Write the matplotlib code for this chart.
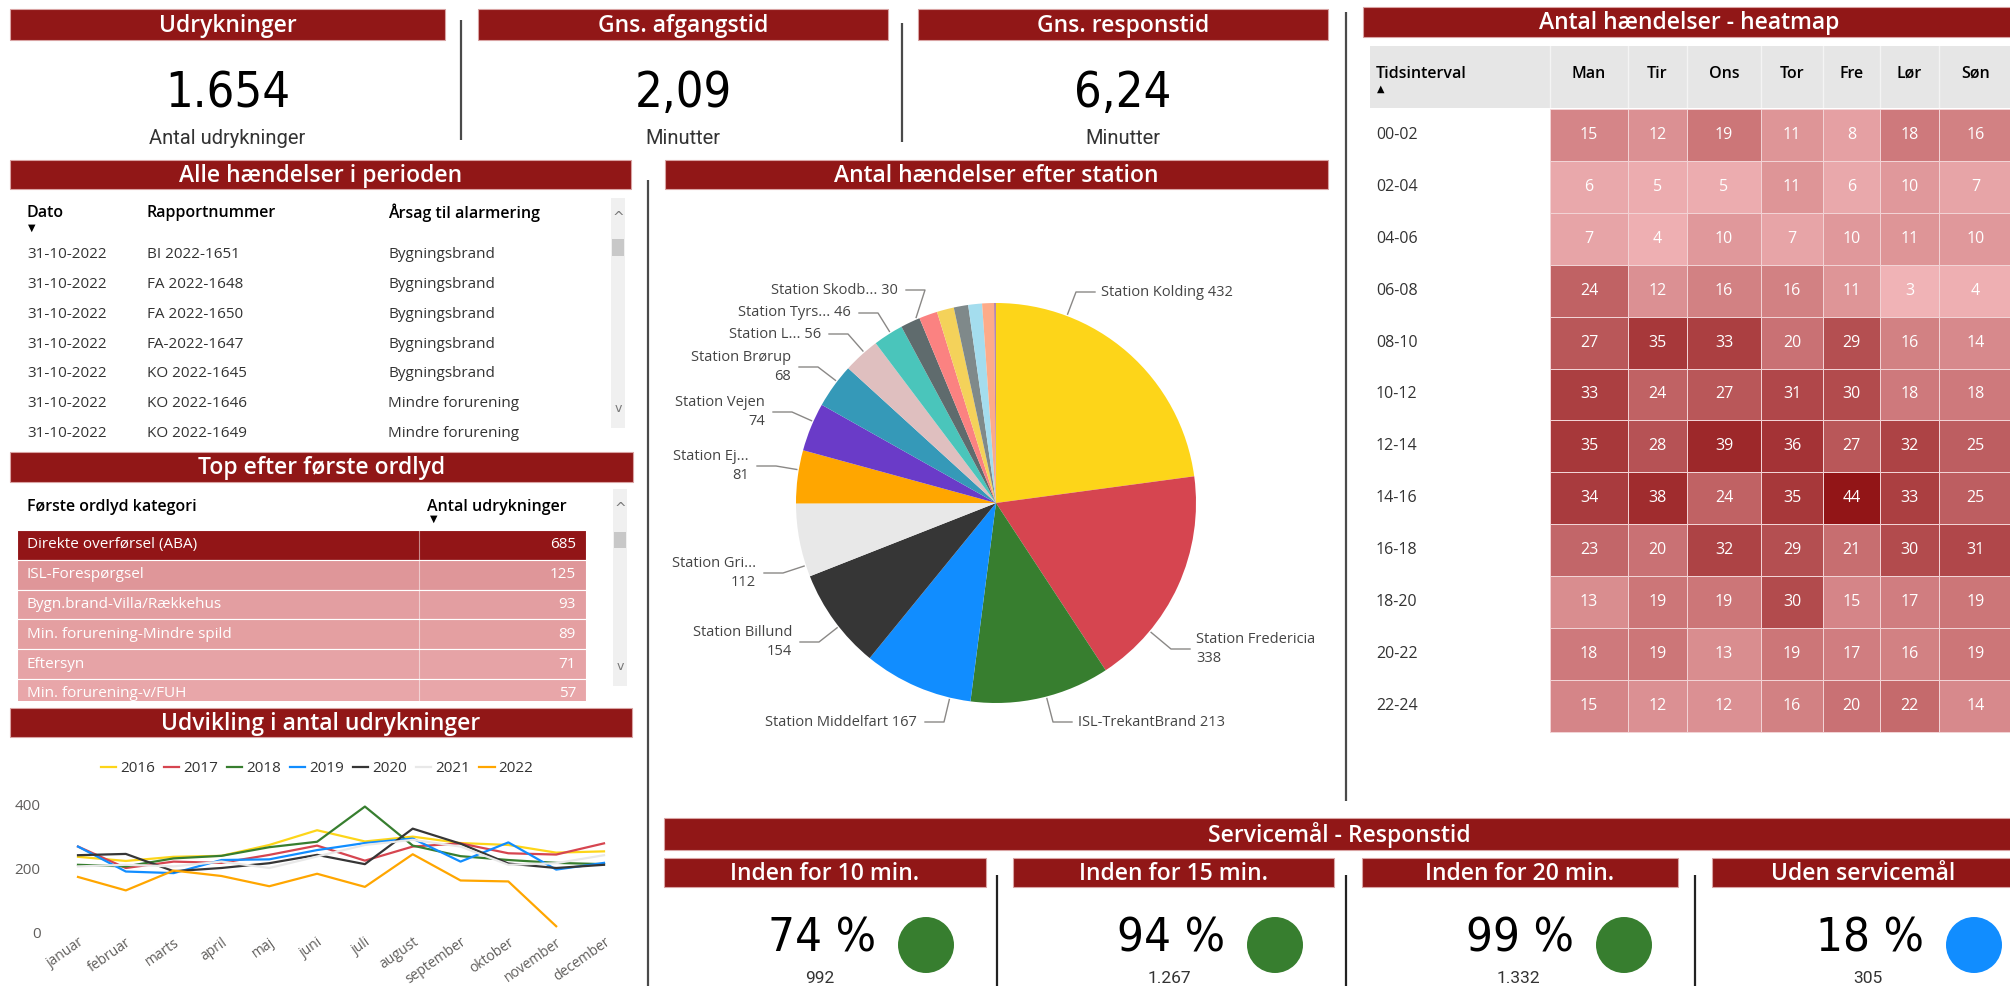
import numpy as np
import matplotlib
matplotlib.use("Agg")
import matplotlib.pyplot as plt
from matplotlib import font_manager as fm
from matplotlib.patches import Rectangle, Circle
from matplotlib.colors import LinearSegmentedColormap, Normalize

# ---------------- data ----------------
kpi_titles = ["Udrykninger", "Gns. afgangstid", "Gns. responstid"]
kpi_values = ["1.654", "2,09", "6,24"]
kpi_units = ["Antal udrykninger", "Minutter", "Minutter"]

event_cols = ["Dato", "Rapportnummer", "Årsag til alarmering"]
event_dates = ["31-10-2022"] * 7
event_reports = ["BI 2022-1651", "FA 2022-1648", "FA 2022-1650", "FA-2022-1647",
                 "KO 2022-1645", "KO 2022-1646", "KO 2022-1649"]
event_causes = ["Bygningsbrand"] * 5 + ["Mindre forurening"] * 2

word_cols = ["Første ordlyd kategori", "Antal udrykninger"]
word_categories = ["Direkte overførsel (ABA)", "ISL-Forespørgsel", "Bygn.brand-Villa/Rækkehus",
                   "Min. forurening-Mindre spild", "Eftersyn", "Min. forurening-v/FUH"]
word_counts = [685, 125, 93, 89, 71, 57]

months = ["januar", "februar", "marts", "april", "maj", "juni", "juli",
          "august", "september", "oktober", "november", "december"]
years = ["2016", "2017", "2018", "2019", "2020", "2021", "2022"]
y2016 = [235, 222, 235, 238, 272, 318, 283, 298, 278, 272, 248, 252]
y2017 = [267, 200, 220, 216, 241, 270, 223, 267, 277, 246, 242, 277]
y2018 = [210, 205, 230, 238, 265, 282, 392, 270, 237, 225, 216, 212]
y2019 = [267, 189, 184, 225, 227, 256, 278, 292, 220, 280, 195, 216]
y2020 = [240, 244, 190, 200, 215, 241, 212, 323, 276, 214, 200, 210]
y2021 = [205, 210, 205, 220, 200, 236, 272, 288, 267, 210, 215, 240]
y2022 = [172, 130, 192, 175, 143, 182, 141, 243, 161, 158, 18, np.nan]
monthly = [y2016, y2017, y2018, y2019, y2020, y2021, y2022]

station_names = ["Station Kolding", "Station Fredericia", "ISL-TrekantBrand", "Station Middelfart",
                 "Station Billund", "Station Gri...", "Station Ej...", "Station Vejen",
                 "Station Brørup", "Station L...", "Station Tyrs...", "Station Skodb...",
                 None, None, None, None, None, None]
station_counts = [432, 338, 213, 167, 154, 112, 81, 74, 68, 56, 46, 30, 28, 26, 22, 21, 18, 3]

time_slots = ["00-02", "02-04", "04-06", "06-08", "08-10", "10-12",
              "12-14", "14-16", "16-18", "18-20", "20-22", "22-24"]
weekdays = ["Man", "Tir", "Ons", "Tor", "Fre", "Lør", "Søn"]
heat_counts = np.array([
    [15, 12, 19, 11, 8, 18, 16],
    [6, 5, 5, 11, 6, 10, 7],
    [7, 4, 10, 7, 10, 11, 10],
    [24, 12, 16, 16, 11, 3, 4],
    [27, 35, 33, 20, 29, 16, 14],
    [33, 24, 27, 31, 30, 18, 18],
    [35, 28, 39, 36, 27, 32, 25],
    [34, 38, 24, 35, 44, 33, 25],
    [23, 20, 32, 29, 21, 30, 31],
    [13, 19, 19, 30, 15, 17, 19],
    [18, 19, 13, 19, 17, 16, 19],
    [15, 12, 12, 16, 20, 22, 14],
])

service_titles = ["Inden for 10 min.", "Inden for 15 min.", "Inden for 20 min.", "Uden servicemål"]
service_pct = [74, 94, 99, 18]
service_counts = ["992", "1.267", "1.332", "305"]

# ---------------- style / layout ----------------
W, H = 2010, 986
RED = "#911717"
TXT = "#333333"
GRAY = "#605E5C"
palette = ["#FDD519", "#D64550", "#377E2F", "#118DFF", "#363636", "#E8E8E8", "#FFA600",
           "#6A3BC8", "#3599B8", "#DFBFBF", "#4AC5BB", "#5F6B6D", "#FB8281", "#F4D25A",
           "#7F898A", "#A4DDEE", "#FDAB89", "#B687AC"]
service_colors = ["#377E2F", "#377E2F", "#377E2F", "#118DFF"]
reds = LinearSegmentedColormap.from_list("reds", ["#F0B3B6", "#921517"])


def pick(*names):
    for n in names:
        try:
            fm.findfont(fm.FontProperties(family=n), fallback_to_default=False)
            return n
        except Exception:
            pass
    return "DejaVu Sans"


def narrow_font():
    # a condensed face for the big numbers, if one is installed
    files = [f.fname for f in fm.fontManager.ttflist]
    for key in ("liberationsansnarrow-regular", "dejavusanscondensed.", "narrow", "condensed"):
        for fn in files:
            low = fn.lower()
            if key in low and "bold" not in low and "italic" not in low and "oblique" not in low:
                return fm.FontProperties(fname=fn), 1.0
    return fm.FontProperties(family=pick("Roboto", "DejaVu Sans")), 0.9


BODY = pick("Open Sans", "Noto Sans", "DejaVu Sans")
HEAD = pick("Open Sans", "Roboto", "DejaVu Sans")
SUB = pick("Roboto", "Open Sans")
NUM, NUM_SCALE = narrow_font()
plt.rcParams["font.family"] = [BODY, "DejaVu Sans"]


def num_prop(size):
    p = NUM.copy()
    p.set_size(size * NUM_SCALE)
    return p


fig = plt.figure(figsize=(W / 100, H / 100), dpi=100)
canvas = fig.add_axes([0, 0, 1, 1])
canvas.set_xlim(0, W)
canvas.set_ylim(H, 0)
canvas.set_autoscale_on(False)
canvas.axis("off")


def header(x0, x1, y0, y1, text, size=16.5):
    canvas.add_patch(Rectangle((x0, y0), x1 - x0, y1 - y0, fc=RED, ec="#d9a3a3", lw=0.8))
    canvas.text((x0 + x1) / 2, (y0 + y1) / 2 + 1, text, color="white", ha="center",
                va="center", fontsize=size, family=HEAD, weight="semibold")


def vline(x, y0, y1, color="#4a4a4a", lw=1.6):
    canvas.plot([x, x], [y0, y1], color=color, lw=lw, solid_capstyle="butt")


def scrollbar(x0, x1, y0, y1, t0, t1):
    canvas.add_patch(Rectangle((x0, y0), x1 - x0, y1 - y0, fc="#F0F0F0", ec="none"))
    canvas.add_patch(Rectangle((x0 + 1, t0), x1 - x0 - 2, t1 - t0, fc="#C8C8C8", ec="none"))
    canvas.text((x0 + x1) / 2, y0 + 20, "^", ha="center", va="center", fontsize=10,
                color="#777777", family="DejaVu Sans")
    canvas.text((x0 + x1) / 2, y1 - 20, "v", ha="center", va="center", fontsize=9,
                color="#777777", family="DejaVu Sans")


# ---- KPI tiles on top ----
kpi_boxes = [(10, 445), (478, 888), (918, 1328)]
for (x0, x1), t, v, u in zip(kpi_boxes, kpi_titles, kpi_values, kpi_units):
    header(x0, x1, 9, 40, t)
    cx = (x0 + x1) / 2
    canvas.text(cx, 107, v, ha="center", va="baseline", fontproperties=num_prop(35), color="black")
    canvas.text(cx, 138, u, ha="center", va="center", fontsize=14.5, family=SUB, color=TXT)
vline(461, 20, 140)
vline(902, 23, 142)
vline(1346, 12, 801)
vline(648, 180, H)

# ---- table: Alle hændelser i perioden ----
header(10, 631, 160, 189, "Alle hændelser i perioden")
col_x = [27, 147, 388]
for x, c in zip(col_x, event_cols):
    canvas.text(x, 213, c, ha="left", va="center", fontsize=11.5, weight="semibold", color="black")
canvas.text(32, 228, "▼", ha="center", va="center", fontsize=7, family="DejaVu Sans", color="black")
for i, row in enumerate(zip(event_dates, event_reports, event_causes)):
    y = 255 + i * 29.7
    for x, val in zip(col_x, row):
        canvas.text(x, y, val, ha="left", va="center", fontsize=11, color=TXT)
scrollbar(611, 625, 198, 428, 239, 256)

# ---- table: Top efter første ordlyd ----
header(10, 633, 452, 482, "Top efter første ordlyd")
canvas.text(27, 507, word_cols[0], ha="left", va="center", fontsize=11.5, weight="semibold", color="black")
canvas.text(427, 507, word_cols[1], ha="left", va="center", fontsize=11.5, weight="semibold", color="black")
canvas.text(434, 519, "▼", ha="center", va="center", fontsize=7, family="DejaVu Sans", color="black")
tnorm = Normalize(0, max(word_counts))
clip = Rectangle((17, 530), 569, 171, transform=canvas.transData)
row_h = 29.8
for i, (cat, cnt) in enumerate(zip(word_categories, word_counts)):
    top = 530 + i * row_h
    r = Rectangle((17, top), 569, row_h, fc=reds(tnorm(cnt)), ec="white", lw=0.8)
    canvas.add_patch(r)
    r.set_clip_path(clip)
    for t in (canvas.text(27, top + row_h / 2, cat, ha="left", va="center", fontsize=11, color="white"),
              canvas.text(576, top + row_h / 2, str(cnt), ha="right", va="center", fontsize=11, color="white")):
        t.set_clip_path(clip)
canvas.plot([419, 419], [530, 701], color="white", lw=0.8, alpha=0.5)
scrollbar(613, 627, 489, 686, 532, 548)

# ---- line chart: Udvikling i antal udrykninger ----
header(10, 632, 708, 737, "Udvikling i antal udrykninger")
lx0, lx1, ly0, ly1 = 78, 604, 804, 932
lax = fig.add_axes([lx0 / W, 1 - ly1 / H, (lx1 - lx0) / W, (ly1 - ly0) / H])
for yr, vals, col in zip(years, monthly, palette):
    lax.plot(range(12), vals, color=col, lw=1.6, label=yr, clip_on=False)
lax.set_xlim(0, 11)
lax.set_ylim(0, 400)
lax.set_yticks([0, 200, 400])
lax.set_xticks(range(12))
lax.set_xticklabels(months, rotation=35, ha="right", va="top", rotation_mode="anchor")
lax.tick_params(length=0, labelsize=11, colors=GRAY)
lax.tick_params(axis="x", labelsize=10, pad=2)
lax.tick_params(axis="y", pad=27)
for s in lax.spines.values():
    s.set_visible(False)
lax.patch.set_alpha(0)
handles, labels = lax.get_legend_handles_labels()
fig.legend(handles, labels, loc="center", bbox_to_anchor=(317 / W, 1 - 769 / H), ncol=7,
           frameon=False, fontsize=11, handlelength=1.0, handletextpad=0.25,
           columnspacing=0.6, labelcolor=TXT)

# ---- pie: Antal hændelser efter station ----
header(665, 1328, 160, 189, "Antal hændelser efter station")
PCX, PCY, PR = 996, 503, 200
pax = fig.add_axes([(PCX - 250) / W, (H - PCY - 250) / H, 500 / W, 500 / H])
wedges, _ = pax.pie(station_counts, colors=palette, startangle=90, counterclock=False,
                    radius=1, wedgeprops=dict(linewidth=0))
pax.set_xlim(-1.25, 1.25)
pax.set_ylim(-1.25, 1.25)
pax.set_axis_off()

# label anchor: text x, leader y, alignment, two lines
pie_label_pos = [(1101, 292, "left", False), (1196, 649, "left", True), (1078, 722, "left", False),
                 (917, 722, "right", False), (792, 642, "right", True), (756, 573, "right", True),
                 (749, 466, "right", True), (765, 412, "right", True), (791, 367, "right", True),
                 (821, 334, "right", False), (851, 313, "right", False), (898, 290, "right", False)]
for w, name, cnt, pos in zip(wedges, station_names, station_counts, pie_label_pos):
    tx, ty, ha, two = pos
    ex = tx - 25 if ha == "left" else tx + 27
    ee = tx - 6 if ha == "left" else tx + 8
    ang = np.degrees(np.arctan2(PCY - ty, ex - PCX))
    t1, t2 = w.theta1, w.theta2
    mid = (t1 + t2) / 2
    ang = mid + ((ang - mid + 180) % 360 - 180)
    ang = min(max(ang, t1 + 0.8), t2 - 0.8)
    sx = PCX + (PR + 2) * np.cos(np.radians(ang))
    sy = PCY - (PR + 2) * np.sin(np.radians(ang))
    canvas.plot([sx, ex, ee], [sy, ty, ty], color="#8A8886", lw=1)
    label = f"{name}\n{cnt}" if two else f"{name} {cnt}"
    canvas.text(tx, ty, label, ha=ha, va="center", fontsize=10.5, color="#444444",
                linespacing=1.35, multialignment=ha)

# ---- heatmap ----
header(1363, 2015, 7, 37, "Antal hændelser - heatmap")
col_edges = [1550, 1628, 1687, 1761, 1823, 1880, 1939, 2012]
row_edges = 109 + 51.9 * np.arange(len(time_slots) + 1)
canvas.add_patch(Rectangle((1370, 46), 645, 62, fc="#E6E6E6", ec="none"))
for x in col_edges[:-1]:
    canvas.plot([x, x], [46, 108], color="white", lw=1, alpha=0.6)
canvas.pcolormesh(col_edges, row_edges, heat_counts, cmap=reds,
                  vmin=heat_counts.min(), vmax=heat_counts.max(),
                  edgecolors="#F2D3D5", linewidth=0.7)
canvas.text(1376, 74, "Tidsinterval", ha="left", va="center", fontsize=11.5, weight="semibold", color="black")
canvas.text(1381, 89, "▲", ha="center", va="center", fontsize=7, family="DejaVu Sans", color="black")
col_c = [(a + b) / 2 for a, b in zip(col_edges[:-1], col_edges[1:])]
row_c = (row_edges[:-1] + row_edges[1:]) / 2
for xc, d in zip(col_c, weekdays):
    canvas.text(xc, 74, d, ha="center", va="center", fontsize=11.5, weight="semibold", color="black")
for yc, slot, vals in zip(row_c, time_slots, heat_counts):
    canvas.text(1376, yc, slot, ha="left", va="center", fontsize=11.5, color=TXT)
    for xc, v in zip(col_c, vals):
        canvas.text(xc, yc, str(v), ha="center", va="center", fontsize=11.5, color="white")

# ---- Servicemål ----
header(664, 2015, 818, 850, "Servicemål - Responstid")
sub_boxes = [(664, 986), (1013, 1334), (1362, 1678), (1712, 2015)]
for (x0, x1), t, p, c, col in zip(sub_boxes, service_titles, service_pct, service_counts, service_colors):
    header(x0, x1, 858, 887, t)
    canvas.text(x0 + 158, 952, f"{p} %", ha="center", va="baseline", fontproperties=num_prop(34), color="black")
    canvas.text(x0 + 156, 983, c, ha="center", va="baseline", fontsize=12.5, family=SUB, color=TXT)
    canvas.add_patch(Circle((x0 + 262, 945), 28, fc=col, ec="none"))
for x in (997, 1346, 1695):
    vline(x, 875, H, color="#222222")

fig.savefig("out.png", dpi=100)
